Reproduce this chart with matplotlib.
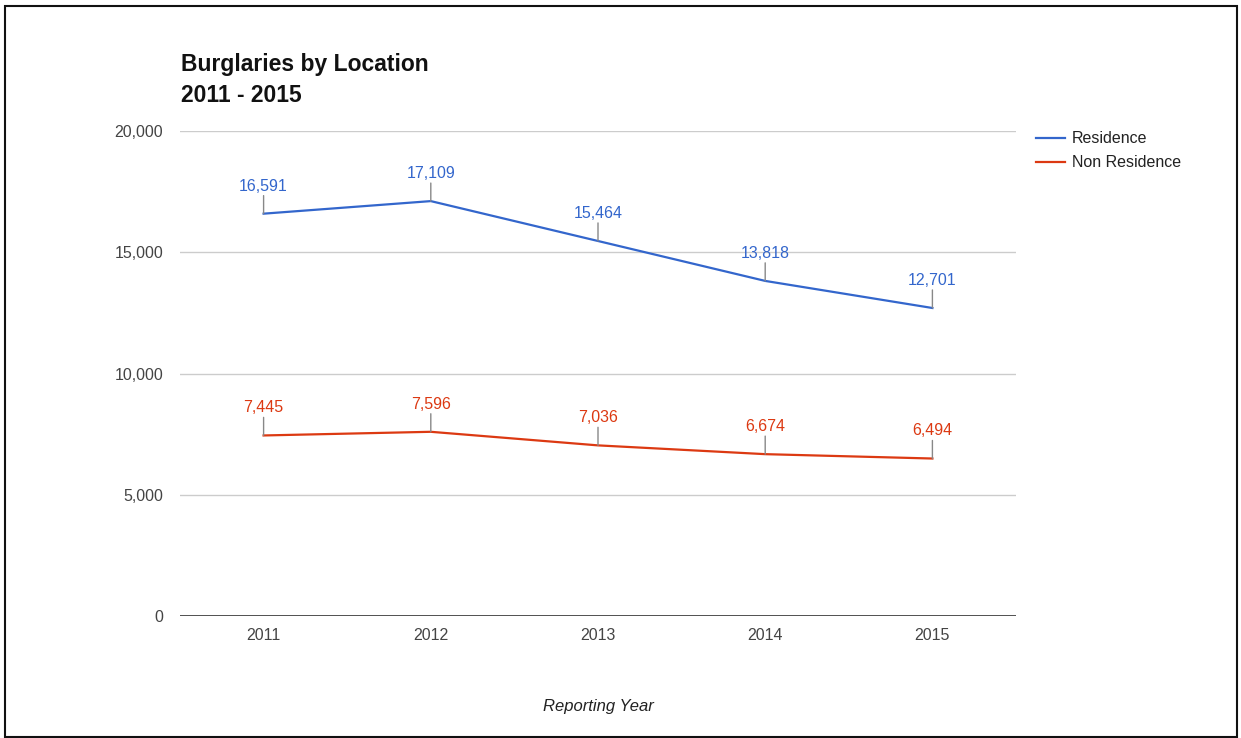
import matplotlib.pyplot as plt
from matplotlib.patches import Rectangle

plt.rcParams['font.family'] = ['Liberation Sans', 'DejaVu Sans']

# data
years = ['2011', '2012', '2013', '2014', '2015']
residence = [16591, 17109, 15464, 13818, 12701]
non_residence = [7445, 7596, 7036, 6674, 6494]
y_ticks = [0, 5000, 10000, 15000, 20000]

series = [
    ('Residence', residence, '#3366cc'),
    ('Non Residence', non_residence, '#dc3912'),
]

W, H = 1241, 738
fig = plt.figure(figsize=(W / 100, H / 100), dpi=100)
ax = fig.add_axes([180 / W, 1 - 616 / H, 836 / W, 485 / H])

xs = list(range(len(years)))
for name, vals, color in series:
    ax.plot(xs, vals, color=color, lw=1.6, label=name, zorder=3)
    for x, v in zip(xs, vals):
        # little stem from the point up to its label
        ax.annotate('', xy=(x, v), xytext=(0, 13), textcoords='offset points',
                    arrowprops=dict(arrowstyle='-', color='#888888', lw=1, shrinkA=0, shrinkB=0))
        ax.annotate(f'{v:,}', xy=(x, v), xytext=(0, 14.5), textcoords='offset points',
                    ha='center', va='bottom', color=color, fontsize=11.5)

ax.set_xlim(-0.5, len(years) - 0.5)
ax.set_ylim(0, 20000)
ax.set_xticks(xs)
ax.set_xticklabels(years)
ax.set_yticks(y_ticks)
ax.set_yticklabels([f'{t:,}' for t in y_ticks])
ax.tick_params(length=0, labelsize=11.5, colors='#444444')
ax.tick_params(axis='y', pad=12)
ax.tick_params(axis='x', pad=9)
for t in y_ticks[1:]:
    ax.axhline(t, color='#cccccc', lw=1, zorder=1)
ax.axhline(0, color='#333333', lw=1.2, zorder=2)
for s in ax.spines.values():
    s.set_visible(False)

ax.set_xlabel('Reporting Year', fontstyle='italic', fontsize=12, color='#222222', va='center')
ax.xaxis.set_label_coords(0.5, (616 - 706) / 485)

fig.text(181 / W, 1 - 65 / H, 'Burglaries by Location', fontsize=16.5,
         fontweight='bold', color='#111111', va='center', ha='left')
fig.text(181 / W, 1 - 96 / H, '2011 - 2015', fontsize=16.5,
         fontweight='bold', color='#111111', va='center', ha='left')

leg = ax.legend(loc='upper left', bbox_to_anchor=(1.0065, 1.029), frameon=False,
                fontsize=11.5, handlelength=1.8, labelspacing=0.55, handletextpad=0.45)
for t in leg.get_texts():
    t.set_color('#222222')

# outer frame
fig.patches.append(Rectangle((5 / W, 1 / H), 1232 / W, 731 / H, transform=fig.transFigure,
                             fill=False, edgecolor='#111111', lw=1.5))

fig.savefig('out.png', dpi=100)
